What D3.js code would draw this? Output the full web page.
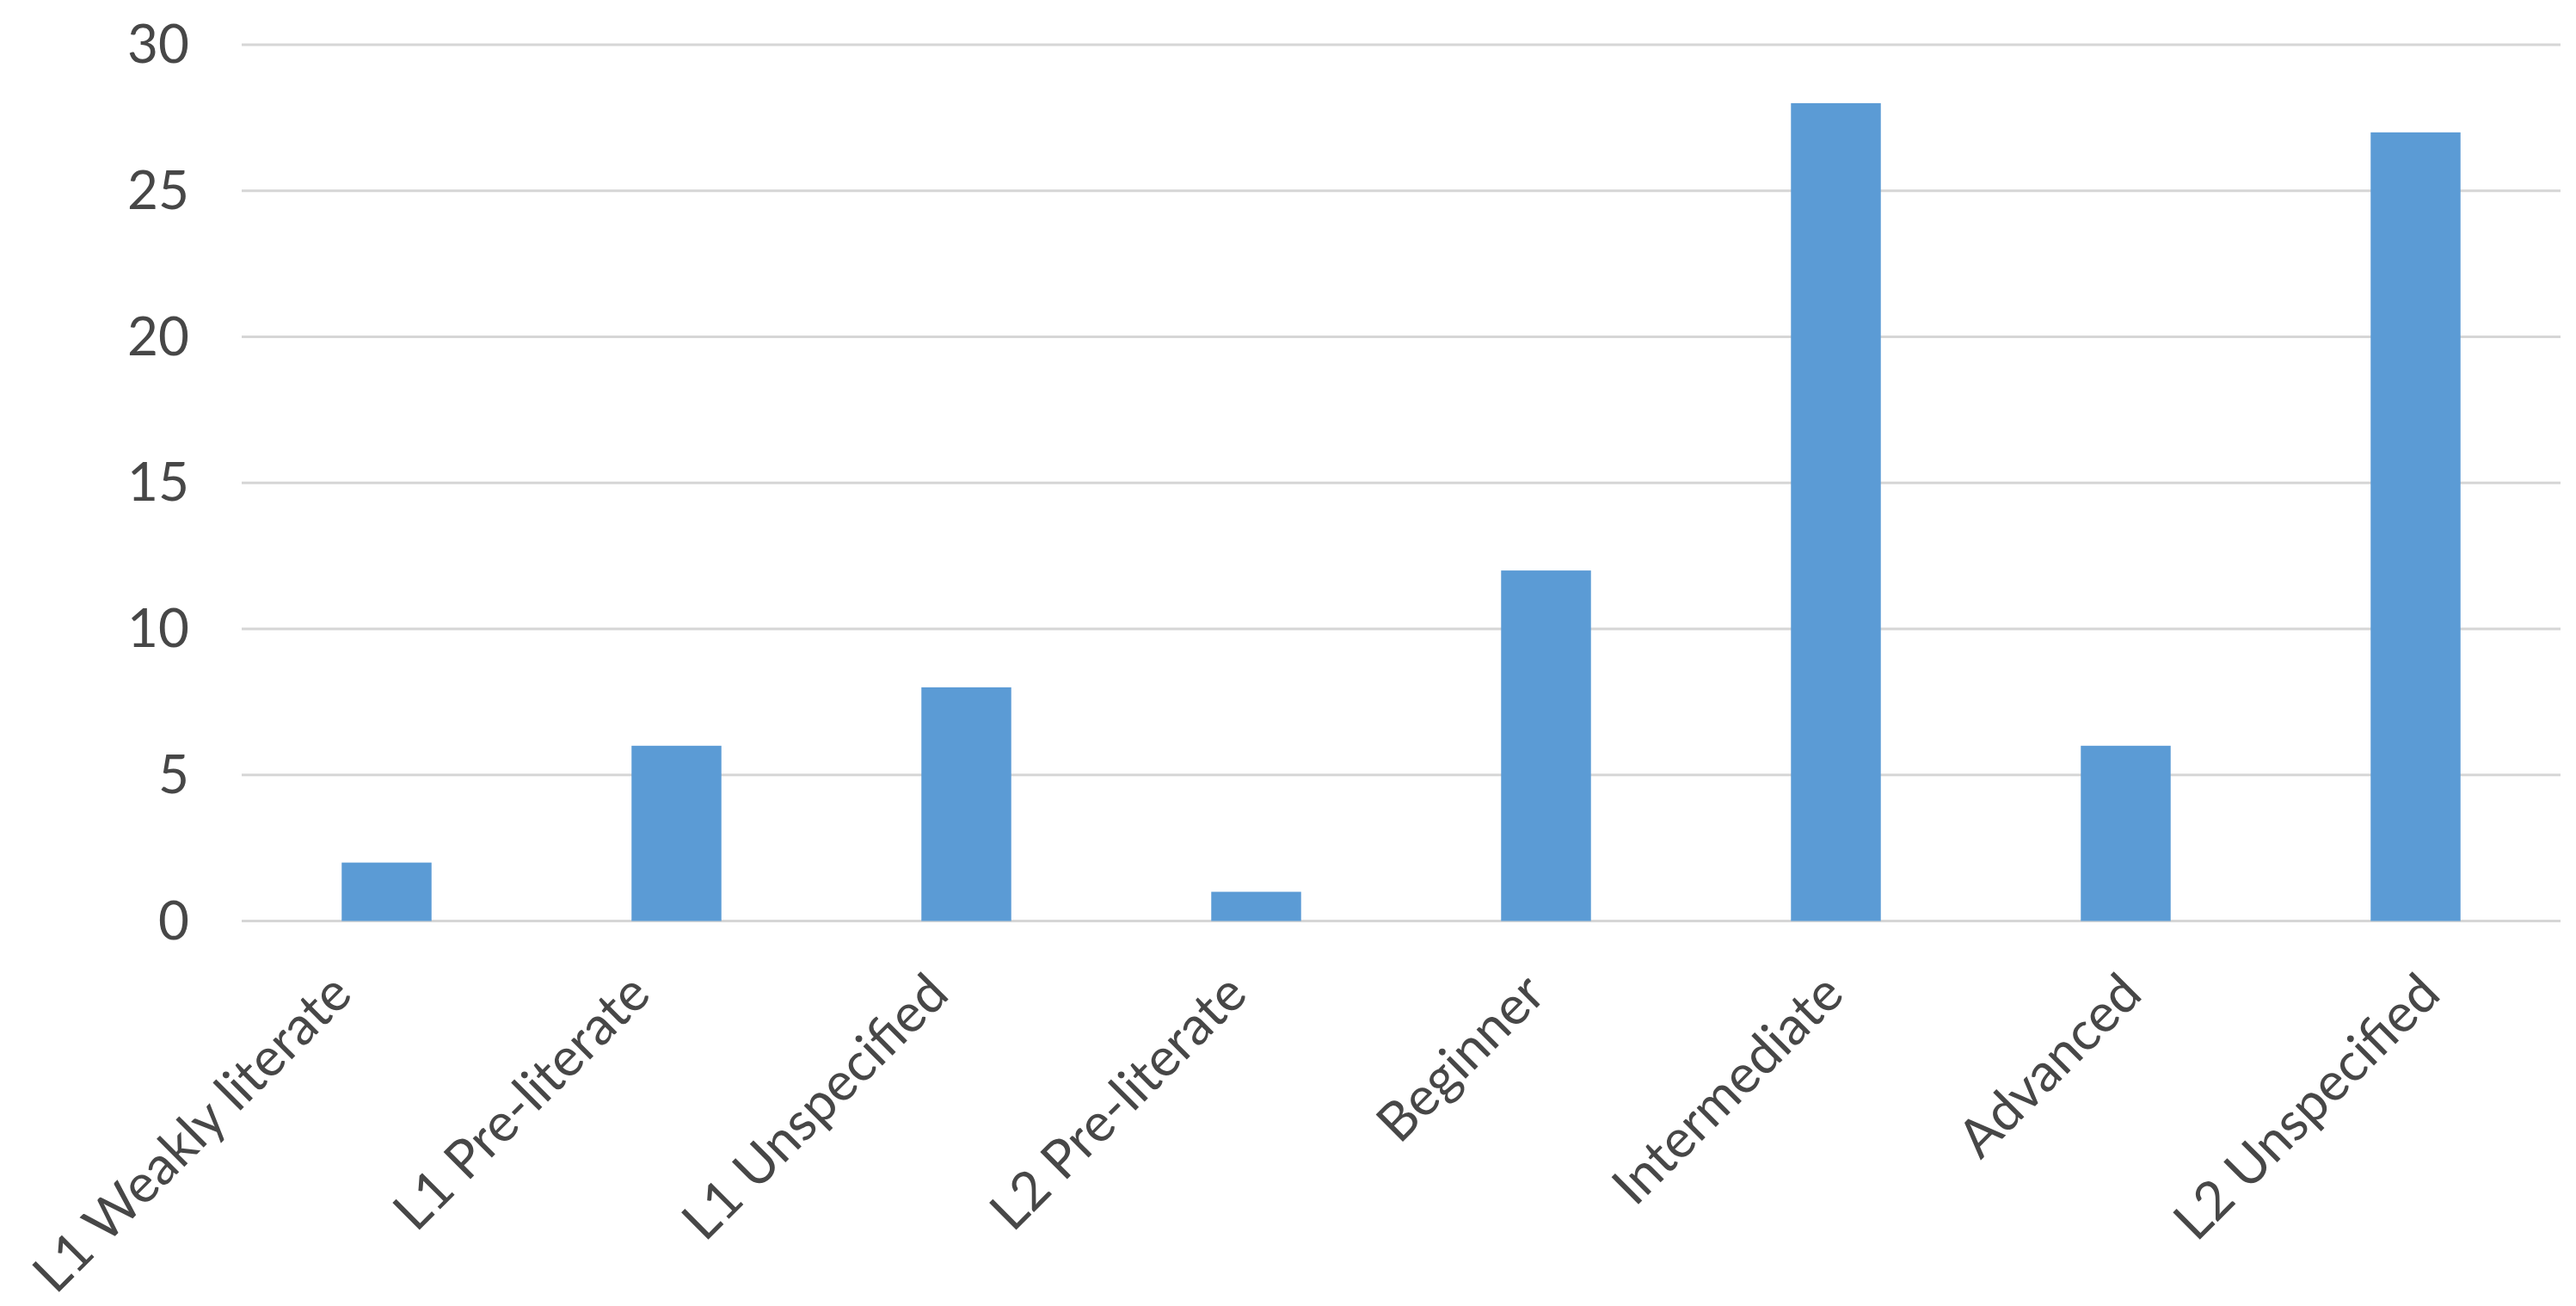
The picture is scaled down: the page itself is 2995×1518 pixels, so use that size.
<!DOCTYPE html>
<html>
<head>
<meta charset="utf-8">
<title>Learners by level</title>
<script src="https://d3js.org/d3.v7.min.js"></script>
<style>
    body { margin: 0; background: #fff; }
    .grid line { stroke: #d6d6d6; stroke-width: 3px; }
    .axis-label { font-family: Lato, "Open Sans", sans-serif; font-size: 62px; fill: #474747; }
</style>
</head>
<body>
<script>
// data
var categories = ["L1 Weakly literate", "L1 Pre-literate", "L1 Unspecified", "L2 Pre-literate",
                  "Beginner", "Intermediate", "Advanced", "L2 Unspecified"];
var counts = [2, 6, 8, 1, 12, 28, 6, 27];
var yTicks = [0, 5, 10, 15, 20, 25, 30];

var width = 2995,
    height = 1518;

var svg = d3.select("body").append("svg")
    .attr("width", width)
    .attr("height", height);

var x = d3.scaleBand()
    .domain(categories)
    .range([281, 2977])
    .paddingInner(0.69)
    .paddingOuter(0.345);

// the rotated labels sit on a slightly wider spacing than the bars
var xLabel = d3.scalePoint()
    .domain(categories)
    .range([412, 2840]);

var y = d3.scaleLinear()
    .domain([0, 30])
    .range([1070.5, 52]);

// horizontal gridlines (0 line doubles as the axis)
svg.append("g")
    .attr("class", "grid")
    .selectAll("line")
    .data(yTicks)
    .enter()
    .append("line")
    .attr("x1", x.range()[0])
    .attr("x2", x.range()[1])
    .attr("y1", function(d) { return y(d); })
    .attr("y2", function(d) { return y(d); });

// y tick labels
svg.append("g")
    .selectAll("text")
    .data(yTicks)
    .enter()
    .append("text")
    .attr("class", "axis-label")
    .attr("x", 220)
    .attr("y", function(d) { return y(d) - 3; })
    .attr("text-anchor", "end")
    .attr("dominant-baseline", "central")
    .text(function(d) { return d; });

// bars
svg.append("g")
    .selectAll("rect")
    .data(counts)
    .enter()
    .append("rect")
    .attr("x", function(d, i) { return x(categories[i]); })
    .attr("width", x.bandwidth())
    .attr("y", function(d) { return y(d); })
    .attr("height", function(d) { return y(0) - y(d); })
    .attr("fill", "#5b9bd5");

// rotated category labels
svg.append("g")
    .selectAll("text")
    .data(categories)
    .enter()
    .append("text")
    .attr("class", "axis-label")
    .attr("text-anchor", "end")
    .attr("transform", function(d) {
        return "translate(" + xLabel(d) + "," + (y(0) + 88) + ") rotate(-45)";
    })
    .text(function(d) { return d; });
</script>
</body>
</html>
